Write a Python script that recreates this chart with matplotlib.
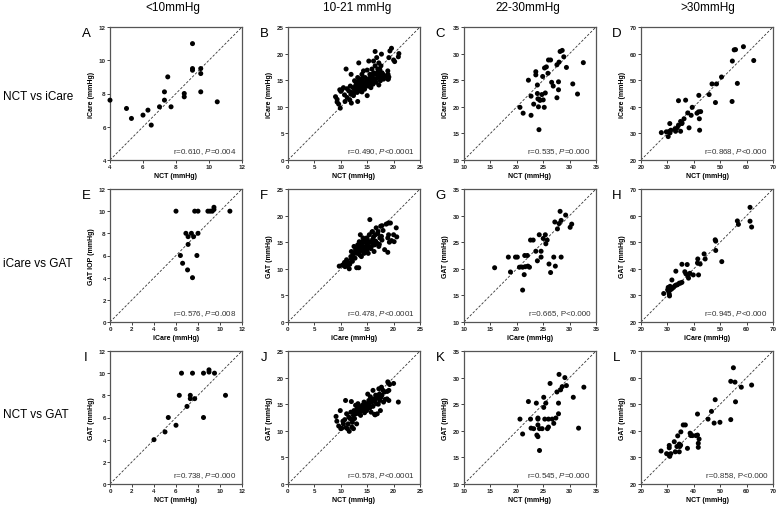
import matplotlib
matplotlib.use("Agg")
import matplotlib.pyplot as plt

plt.rcParams['font.family'] = ['Liberation Sans', 'DejaVu Sans']
plt.rcParams['mathtext.fontset'] = 'custom'
plt.rcParams['mathtext.rm'] = 'Liberation Sans'
plt.rcParams['mathtext.it'] = 'Liberation Sans:italic'

# column / row headers
col_titles = ["<10mmHg", "10-21 mmHg", "22-30mmHg", ">30mmHg"]
row_titles = ["NCT vs iCare", "iCare vs GAT", "NCT vs GAT"]
letters = ["A", "B", "C", "D", "E", "F", "G", "H", "I", "J", "K", "L"]

# axis ranges per column (lo, hi, step)
col_ranges = [(0, 12, 2), (0, 25, 5), (10, 35, 5), (20, 70, 10)]

x_labels = ["NCT (mmHg)", "iCare (mmHg)", "NCT (mmHg)"]
y_labels = [["iCare (mmHg)"] * 4,
            ["GAT IOP (mmHg)", "GAT (mmHg)", "GAT (mmHg)", "GAT (mmHg)"],
            ["GAT (mmHg)"] * 4]

stats = ["r=0.610, $P$=0.004", "r=0.490, $P$<0.0001", "r=0.535, $P$=0.000", "r=0.868, $P$<0.000",
         "r=0.576, $P$=0.008", "r=0.478, $P$<0.0001", "r=0.665, P<0.000", "r=0.945, $P$<0.000",
         "r=0.738, $P$=0.000", "r=0.578, $P$<0.0001", "r=0.545, $P$=0.000", "r=0.858, P<0.000"]

# ---- A: NCT vs iCare, <10
a_x = [4.0, 5.0, 5.3, 6.0, 6.3, 6.5, 7.0, 7.3, 7.3, 7.5, 7.7, 8.5, 8.5, 9.0, 9.0, 9.0, 9.5, 9.5, 9.5, 10.5]
a_y = [7.6, 7.1, 6.5, 6.7, 7.0, 6.1, 7.2, 7.6, 8.1, 9.0, 7.2, 8.0, 7.8, 11.0, 9.5, 9.4, 9.5, 9.2, 8.1, 7.5]

# ---- B: NCT vs iCare, 10-21
b_x = [9.0, 9.3, 9.6, 9.9, 9.8, 10.2, 10.5, 10.7, 11.0, 11.2, 11.5, 11.7, 11.8, 11.95, 12.0, 12.1,
       12.3, 12.4, 12.6, 12.7, 12.9, 13.1, 13.2, 13.25, 13.4, 13.4, 13.6, 13.7, 13.7, 13.2, 13.9, 14.0,
       14.1, 14.2, 14.3, 14.3, 14.5, 14.6, 14.7, 14.8, 15.0, 15.0, 15.1, 15.3, 15.3, 15.5, 15.6, 15.7,
       15.9, 15.9, 16.1, 16.2, 16.2, 16.3, 16.5, 16.5, 16.7, 16.7, 16.8, 17.0, 17.0, 17.2, 17.2, 17.35,
       17.5, 17.6, 17.7, 17.8, 18.1, 18.9, 18.95, 19.1, 19.1, 19.3, 20.2, 20.9,
       12.8, 13.0, 13.5, 13.9, 14.2, 14.4, 14.6, 14.9, 15.2, 15.4, 15.6, 15.8, 16.0, 16.3, 16.6, 16.9,
       17.2, 17.4, 17.8, 18.0, 18.4, 14.0, 13.3, 12.5, 11.9, 11.2, 10.8, 10.0, 9.3, 19.0, 19.6, 20.0,
       21.0, 18.9]
b_y = [11.9, 10.9, 10.5, 9.75, 13.2, 13.2, 13.6, 12.25, 17.1, 11.75, 13.0, 11.3, 13.9, 16.1, 10.7, 12.7,
       13.6, 12.1, 14.9, 13.3, 14.25, 12.7, 15.5, 14.6, 13.6, 18.25, 13.9, 15.2, 13.0, 11.0, 14.25, 16.1,
       14.9, 13.6, 16.75, 14.25, 13.3, 15.5, 14.6, 13.9, 12.1, 16.9, 15.2, 14.4, 18.6, 16.1, 14.9, 13.6,
       17.1, 15.5, 14.25, 18.6, 16.4, 15.2, 20.4, 17.7, 16.1, 14.6, 19.25, 15.5, 17.1, 18.25, 14.1, 16.1,
       14.9, 17.7, 19.9, 16.4, 15.2, 16.75, 16.1, 15.6, 19.25, 20.5, 18.5, 19.4,
       13.9, 14.6, 14.8, 13.2, 15.5, 13.9, 14.2, 14.6, 13.9, 14.9, 15.5, 14.4, 15.8, 14.9, 15.2, 16.4,
       15.6, 17.0, 15.4, 16.1, 15.8, 12.8, 13.0, 12.6, 12.4, 13.4, 11.0, 12.9, 11.4, 15.2, 21.0, 18.8,
       20.0, 15.2]

# ---- C: NCT vs iCare, 22-30
c_x = [20.6, 21.2, 22.2, 22.7, 22.7, 23.2, 23.6, 23.6, 23.9, 23.9, 24.0, 24.1, 24.25, 24.4, 24.2, 24.75,
       24.9, 25.0, 25.2, 25.4, 25.25, 25.6, 25.9, 26.0, 26.4, 26.6, 26.9, 27.6, 27.6, 27.9, 27.9, 28.0,
       28.2, 28.6, 28.9, 29.4, 30.6, 31.5, 32.6]
c_y = [19.9, 18.8, 25.0, 22.0, 18.4, 20.5, 26.6, 26.0, 24.1, 22.5, 21.5, 20.0, 21.4, 21.2, 15.7, 22.3,
       25.7, 21.3, 19.9, 22.6, 27.3, 27.5, 26.3, 28.8, 28.8, 24.6, 23.9, 27.9, 21.7, 24.7, 23.2, 28.4,
       30.4, 30.6, 29.4, 27.4, 24.3, 22.4, 28.3]

# ---- D: NCT vs iCare, >30
d_x = [27.7, 29.6, 30.3, 30.6, 31.0, 31.3, 30.9, 32.8, 33.1, 33.7, 34.2, 35.0, 35.0, 35.5, 35.5, 34.2,
       36.9, 36.3, 37.7, 38.2, 39.0, 39.4, 41.2, 41.8, 41.9, 42.1, 42.2, 42.6, 45.8, 46.9, 48.6, 48.2,
       50.5, 54.6, 54.5, 55.3, 55.8, 56.5, 58.8, 62.7]
d_y = [30.3, 30.6, 28.8, 30.7, 30.2, 31.2, 33.7, 31.6, 30.8, 32.1, 33.0, 30.8, 34.5, 33.7, 34.0, 42.3,
       42.5, 35.5, 37.7, 32.1, 36.8, 39.8, 37.6, 38.1, 44.3, 35.5, 31.2, 38.2, 44.6, 48.6, 48.6, 41.6,
       51.2, 57.2, 42.0, 61.4, 61.5, 48.8, 62.6, 57.4]

# ---- E: iCare vs GAT, <10
e_x = [6.0, 6.9, 7.1, 7.4, 7.6, 7.1, 6.4, 6.6, 7.05, 7.5, 7.7, 8.0, 8.0, 7.9, 8.9, 9.1, 9.3, 9.45, 9.45, 10.9]
e_y = [10.0, 8.0, 7.7, 8.0, 7.7, 7.0, 6.0, 5.3, 4.7, 4.0, 10.0, 10.0, 8.0, 6.0, 10.0, 10.0, 10.0, 10.15, 10.35, 10.0]

# ---- F: iCare vs GAT, 10-21
f_x = [9.7, 10.3, 10.7, 10.8, 11.1, 11.3, 11.6, 11.7, 11.9, 12.0, 12.2, 12.35, 12.5, 12.7, 12.8, 13.0,
       13.1, 13.2, 13.3, 13.4, 13.5, 13.6, 13.7, 13.8, 13.9, 14.0, 14.1, 14.2, 14.4, 14.4, 14.5, 14.7,
       14.9, 14.9, 15.0, 15.2, 15.3, 15.4, 15.5, 15.6, 15.8, 16.0, 16.1, 16.3, 16.4, 16.55, 16.7, 16.9,
       17.05, 17.2, 17.4, 17.55, 17.7, 17.8, 18.3, 18.6, 18.9, 18.9, 19.05, 19.2, 19.4, 20.1, 20.5, 20.6,
       13.0, 13.4, 13.9, 14.2, 14.6, 14.8, 15.1, 15.4, 15.7, 16.0, 16.2, 16.6, 17.0, 17.3, 12.4, 12.0,
       11.4, 10.9, 13.6, 14.1, 15.0, 15.9, 18.0, 19.0, 17.8, 20.0, 19.6]
f_y = [10.5, 10.7, 11.2, 10.4, 11.7, 10.5, 10.0, 10.85, 12.3, 13.25, 11.4, 12.6, 14.2, 12.0, 13.6, 10.2,
       12.9, 14.5, 13.9, 10.2, 15.1, 13.4, 16.4, 14.2, 12.3, 14.6, 13.4, 15.8, 13.9, 12.9, 15.1, 14.2,
       13.4, 15.8, 14.8, 12.9, 13.9, 16.4, 19.25, 15.1, 14.2, 17.0, 15.5, 13.25, 14.5, 16.4, 17.7, 14.8,
       17.0, 14.2, 15.8, 18.0, 16.1, 18.1, 13.6, 18.4, 15.8, 13.1, 16.4, 15.0, 18.6, 15.1, 17.7, 16.0,
       13.6, 14.0, 14.4, 13.7, 14.0, 15.3, 14.4, 15.0, 13.8, 14.9, 16.0, 15.2, 16.6, 14.6, 13.0, 11.8,
       11.2, 11.0, 12.6, 15.1, 15.6, 16.9, 17.2, 18.6, 15.4, 16.4, 15.3]

# ---- G: iCare vs GAT, 22-30
g_x = [15.8, 18.4, 18.8, 19.75, 20.1, 20.5, 21.1, 21.4, 21.1, 21.5, 21.6, 22.0, 22.1, 22.4, 22.6, 23.1,
       23.6, 23.9, 24.25, 24.6, 24.6, 25.0, 25.4, 25.5, 25.75, 26.1, 26.4, 27.0, 27.3, 27.2, 27.7, 28.0,
       28.2, 28.4, 28.4, 29.25, 30.1, 30.4]
g_y = [20.2, 22.2, 19.4, 22.2, 22.2, 20.3, 20.3, 18.9, 16.0, 22.5, 20.4, 22.5, 20.5, 20.3, 25.4, 25.4,
       23.3, 21.5, 26.4, 22.2, 23.3, 25.7, 26.4, 24.7, 25.4, 20.9, 19.3, 22.2, 20.5, 28.8, 27.5, 28.5,
       30.8, 29.1, 22.2, 30.1, 27.8, 28.4]

# ---- H: iCare vs GAT, >30
h_x = [28.6, 30.1, 30.3, 30.5, 30.7, 30.8, 30.9, 31.0, 31.6, 31.7, 32.3, 32.8, 33.3, 33.2, 33.8, 34.5,
       34.9, 35.5, 35.5, 36.6, 37.0, 37.5, 37.8, 38.0, 38.5, 39.8, 41.4, 41.5, 41.8, 42.4, 43.9, 44.3,
       48.1, 48.3, 48.3, 50.6, 56.5, 56.9, 61.3, 61.3, 61.9]
h_y = [30.7, 32.1, 33.0, 31.4, 30.5, 29.8, 32.1, 33.4, 32.4, 35.8, 33.0, 33.6, 33.9, 39.1, 34.0, 34.6,
       34.6, 34.9, 41.7, 38.9, 38.1, 41.6, 37.4, 36.5, 38.3, 37.7, 42.2, 43.7, 37.7, 41.8, 45.6, 43.7,
       50.9, 50.4, 46.9, 42.7, 58.0, 56.7, 63.1, 57.9, 55.7]

# ---- I: NCT vs GAT, <10
i_x = [4.0, 5.0, 5.3, 6.0, 6.3, 6.5, 7.0, 7.3, 7.3, 7.5, 7.7, 8.5, 8.5, 9.0, 9.0, 9.5, 10.5]
i_y = [4.0, 4.7, 6.0, 5.3, 8.0, 10.0, 7.0, 8.0, 7.7, 10.0, 7.7, 10.0, 6.0, 10.3, 10.1, 10.0, 8.0]

# ---- J: NCT vs GAT, 10-21
j_x = [9.1, 9.25, 9.6, 10.0, 9.9, 10.2, 10.5, 10.75, 10.9, 11.1, 11.25, 11.4, 11.6, 11.75, 11.9, 12.0,
       12.1, 12.2, 12.4, 12.5, 12.6, 12.8, 12.9, 13.0, 13.1, 13.25, 13.4, 13.6, 13.75, 13.9, 14.1, 14.2,
       14.4, 14.5, 14.7, 14.8, 15.0, 15.1, 15.3, 15.4, 15.6, 15.75, 15.9, 16.1, 16.25, 16.4, 16.6, 16.75,
       16.9, 17.0, 17.2, 17.4, 17.5, 17.7, 17.8, 18.1, 18.3, 18.75, 18.9, 19.1, 19.1, 19.25, 20.0, 20.9,
       12.7, 13.2, 13.5, 13.9, 14.3, 14.6, 14.9, 15.2, 15.5, 15.8, 16.1, 16.4, 16.8, 17.1, 17.6, 18.0,
       18.4, 11.5, 12.2, 10.4, 11.0, 12.4, 16.5, 19.0, 18.8, 17.3]
j_y = [12.7, 11.8, 10.9, 10.4, 13.8, 10.5, 11.3, 12.1, 15.7, 13.2, 10.4, 11.3, 9.9, 12.3, 13.5, 15.5,
       10.7, 11.6, 12.9, 13.8, 12.3, 14.8, 13.2, 11.3, 14.2, 15.1, 13.5, 14.5, 12.9, 13.8, 14.8, 14.2,
       15.4, 13.4, 14.5, 15.1, 14.2, 16.9, 15.7, 14.8, 16.4, 13.5, 15.4, 17.6, 16.0, 13.1, 16.7, 15.1,
       13.2, 16.4, 17.9, 15.7, 13.8, 18.2, 16.7, 15.4, 17.3, 16.0, 19.2, 17.6, 15.7, 18.7, 18.9, 15.4,
       13.5, 13.9, 13.2, 14.4, 13.9, 14.9, 13.8, 15.0, 14.3, 15.8, 14.6, 15.6, 16.1, 15.0, 16.3, 17.6,
       15.9, 12.6, 12.1, 11.8, 10.6, 10.4, 13.0, 19.0, 17.4, 16.9]

# ---- K: NCT vs GAT, 22-30
k_x = [20.6, 21.1, 22.2, 22.6, 22.7, 23.2, 23.7, 23.8, 24.0, 24.0, 24.0, 24.0, 24.3, 24.3, 24.8, 25.1,
       25.1, 25.3, 25.5, 25.8, 26.0, 26.0, 26.3, 26.7, 27.0, 27.4, 27.6, 27.9, 27.9, 28.0, 28.3, 28.6,
       29.1, 29.4, 30.7, 31.7, 32.7]
k_y = [22.2, 19.4, 25.5, 22.2, 20.5, 20.4, 25.2, 19.2, 18.9, 22.4, 22.2, 21.1, 20.4, 16.3, 20.4, 24.4,
       26.3, 22.2, 25.2, 20.4, 22.2, 20.7, 28.9, 22.2, 21.4, 22.4, 27.3, 25.2, 23.2, 30.6, 27.7, 28.3,
       30.0, 28.5, 26.3, 20.5, 28.2]

# ---- L: NCT vs GAT, >30
l_x = [27.6, 29.7, 30.5, 30.7, 30.7, 30.9, 31.3, 32.6, 33.0, 33.9, 33.6, 34.5, 34.5, 34.7, 35.0, 35.1,
       36.0, 36.8, 37.6, 38.6, 38.9, 39.5, 40.8, 41.4, 41.4, 41.7, 41.7, 42.0, 45.4, 46.7, 47.7, 48.1,
       49.9, 54.0, 54.0, 55.0, 55.6, 55.8, 58.0, 61.9]
l_y = [32.4, 31.4, 31.1, 34.5, 33.6, 30.4, 31.4, 35.9, 32.1, 38.1, 34.1, 35.0, 32.1, 34.1, 34.6, 39.6,
       42.2, 42.2, 33.4, 39.1, 38.2, 38.2, 38.2, 38.4, 46.3, 35.3, 33.8, 36.9, 44.4, 47.3, 42.9, 51.7,
       43.2, 44.2, 58.6, 63.7, 58.3, 50.9, 56.4, 57.2]

xs = [a_x, b_x, c_x, d_x, e_x, f_x, g_x, h_x, i_x, j_x, k_x, l_x]
ys = [a_y, b_y, c_y, d_y, e_y, f_y, g_y, h_y, i_y, j_y, k_y, l_y]

fig = plt.figure(figsize=(7.78, 5.06), dpi=100)

W, H = 778, 506
col_left = [110, 288, 464, 641]
row_top = [28, 190, 352]
aw, ah = 132, 133

for r in range(3):
    for c in range(4):
        k = r * 4 + c
        ax = fig.add_axes([col_left[c] / W, 1 - (row_top[r] + ah) / H, aw / W, ah / H])
        lo, hi, step = col_ranges[c]
        if c == 0 and r == 0:
            lo = 4
        ax.plot([lo, hi], [lo, hi], ls=(0, (3, 2)), lw=0.6, color='#333333', zorder=1)
        ax.scatter(xs[k], ys[k], s=13, color='black', edgecolors='none', zorder=3, clip_on=False)
        ax.set_xlim(lo, hi)
        ax.set_ylim(lo, hi)
        ticks = list(range(lo, hi + 1, step))
        ax.set_xticks(ticks)
        ax.set_yticks(ticks)
        ax.tick_params(direction='out', length=2, width=0.6, pad=1, labelsize=4.5, colors='#222222')
        for lab in ax.get_xticklabels() + ax.get_yticklabels():
            lab.set_fontweight('bold')
        for sp in ax.spines.values():
            sp.set_linewidth(0.9)
            sp.set_color('#555555')
        ax.set_xlabel(x_labels[r], fontsize=5, fontweight='bold', labelpad=2)
        ax.set_ylabel(y_labels[r][c], fontsize=5, fontweight='bold', labelpad=3)
        ax.text(0.96, 0.07, stats[k], transform=ax.transAxes, ha='right', va='center',
                fontsize=5.8, color='#333333')
        fig.text((col_left[c] - 24) / W, 1 - (row_top[r] + 6) / H, letters[k],
                 fontsize=9.5, ha='center', va='center')

col_centers = [173, 357, 528, 708]
for c in range(4):
    fig.text(col_centers[c] / W, 1 - 8 / H, col_titles[c], fontsize=8.5, ha='center', va='center')

row_centers = [97, 264, 415]
for r in range(3):
    fig.text(3 / W, 1 - row_centers[r] / H, row_titles[r], fontsize=8.5, ha='left', va='center')

fig.savefig("out.png", dpi=100)
